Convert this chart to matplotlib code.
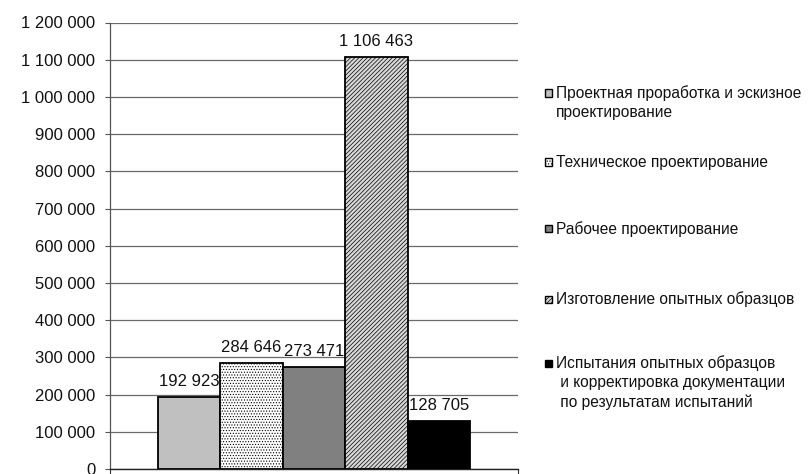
import matplotlib
matplotlib.use("Agg")
import matplotlib.pyplot as plt
from matplotlib.patches import Rectangle
from matplotlib.ticker import FuncFormatter

plt.rcParams['font.family'] = ['Liberation Sans', 'DejaVu Sans']
plt.rcParams['hatch.linewidth'] = 0.5

# Стоимость этапов (руб.)
stages = [
    "Проектная проработка и эскизное\nпроектирование",
    "Техническое проектирование",
    "Рабочее проектирование",
    "Изготовление опытных образцов",
    "Испытания опытных образцов\n и корректировка документации\n по результатам испытаний",
]
values = [192923, 284646, 273471, 1106463, 128705]
value_labels = ["192 923", "284 646", "273 471", "1 106 463", "128 705"]
y_ticks = [0, 100000, 200000, 300000, 400000, 500000, 600000,
           700000, 800000, 900000, 1000000, 1100000, 1200000]

face_colors = ["#c0c0c0", "white", "#808080", "#d8d8d8", "black"]
hatches = [None, "......", None, "////////", None]

W, H = 808, 474
fig = plt.figure(figsize=(W / 100, H / 100), dpi=100)
ax_left, ax_right, ax_top, ax_bottom = 110, 518, 22.5, 469
ax = fig.add_axes([ax_left / W, 1 - ax_bottom / H,
                   (ax_right - ax_left) / W, (ax_bottom - ax_top) / H])

pos = list(range(len(values)))
margin = 0.5 + 0.765
ax.set_xlim(-margin, len(values) - 1 + margin)
ax.set_ylim(0, 1200000)

for i, (v, fc, h) in enumerate(zip(values, face_colors, hatches)):
    ax.bar(pos[i], v, width=1.0, color=fc, edgecolor="black",
           linewidth=1.3, hatch=h, zorder=3)
    ax.annotate(value_labels[i], (pos[i], v), xytext=(0, 6),
                textcoords="offset points", ha="center", va="bottom",
                fontsize=12, color="#111111", zorder=4)

ax.set_yticks(y_ticks)
ax.yaxis.set_major_formatter(FuncFormatter(lambda x, p: f"{int(x):,}".replace(",", " ")))
ax.tick_params(axis="y", direction="out", length=3.6, width=0.8,
               color="#555555", pad=7, labelsize=12, labelcolor="#111111")
ax.set_xticks([-margin, len(values) - 1 + margin])
ax.set_xticklabels(["", ""])
ax.tick_params(axis="x", direction="out", length=3.6, width=0.8, color="#333333")

ax.grid(axis="y", color="#6a6a6a", linewidth=0.9, zorder=0)
ax.set_axisbelow(True)
for s in ["top", "right"]:
    ax.spines[s].set_visible(False)
ax.spines["left"].set_color("#555555")
ax.spines["left"].set_linewidth(0.9)
ax.spines["bottom"].set_color("#222222")
ax.spines["bottom"].set_linewidth(1.0)

# Легенда: квадратный маркер и подпись для каждого этапа
entry_y = [93, 162, 229, 299, 363]
line_step = 19.5
sq = 7
for y, lab, fc, h in zip(entry_y, stages, face_colors, hatches):
    fig.patches.append(Rectangle((545 / W, 1 - (y + sq / 2) / H), sq / W, sq / H,
                                 transform=fig.transFigure, facecolor=fc,
                                 edgecolor="black", linewidth=1.0, hatch=h))
    for k, line in enumerate(lab.split("\n")):
        fig.text(556 / W, 1 - (y + k * line_step) / H, line, ha="left", va="center",
                 fontsize=11.2, color="#111111")

fig.savefig("out.png", dpi=100, facecolor="white")
